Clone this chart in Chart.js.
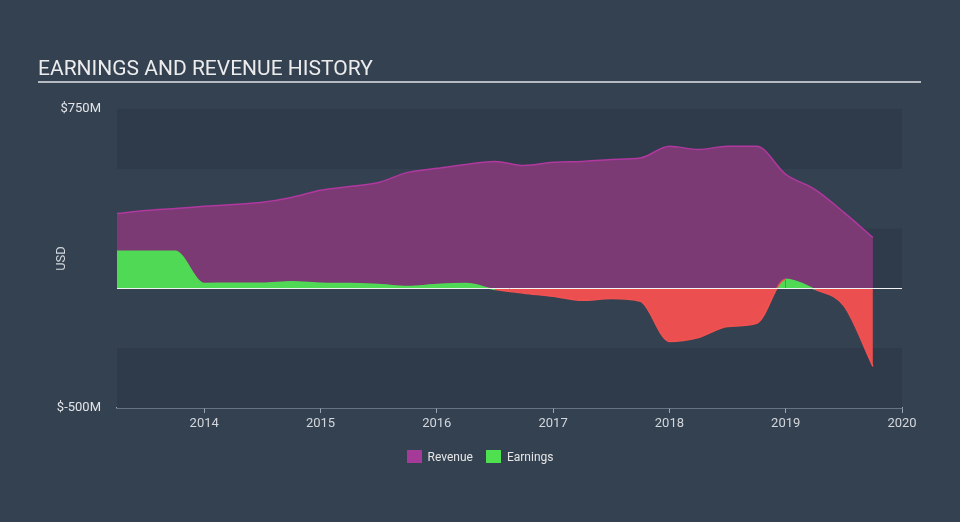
<!DOCTYPE html>
<html>
<head>
<meta charset="utf-8">
<script src="https://cdn.jsdelivr.net/npm/chart.js@4/dist/chart.umd.min.js"></script>
<style>
    body { margin: 0; background: #344151; font-family: Roboto, sans-serif; }
    #wrap { position: relative; width: 960px; height: 522px; }
    #title {
        position: absolute; left: 38px; top: 56px; width: 883px;
        color: #ececec; font-size: 21px; padding-bottom: 1px;
        border-bottom: 2px solid #b5bac1; line-height: 24px;
    }
    #legend {
        position: absolute; top: 450px; left: 0; width: 960px;
        text-align: center; font-size: 12px; color: #e6e6e6;
    }
    #legend span.item { margin: 0 5px; }
    #legend i {
        display: inline-block; width: 15px; height: 13px;
        vertical-align: -2px; margin-right: 6px;
    }
    canvas { position: absolute; left: 0; top: 0; }
</style>
</head>
<body>
<div id="wrap">
    <canvas id="chart" width="960" height="522"></canvas>
    <div id="title">EARNINGS AND REVENUE HISTORY</div>
    <div id="legend">
        <span class="item"><i style="background:#a63a98"></i>Revenue</span>
        <span class="item"><i style="background:#4fe04f"></i>Earnings</span>
    </div>
</div>
<script>
// quarter ends, in fractional years
const quarters = [2013.25, 2013.5, 2013.75, 2014, 2014.25, 2014.5, 2014.75, 2015, 2015.25,
    2015.5, 2015.75, 2016, 2016.25, 2016.5, 2016.75, 2017, 2017.25, 2017.5, 2017.75,
    2018, 2018.25, 2018.5, 2018.75, 2019, 2019.25, 2019.5, 2019.75];

// USD millions
const revenue = [313, 326, 334, 343, 351, 360, 380, 410, 426,
    443, 485, 502, 518, 531, 514, 527, 531, 539, 545,
    594, 581, 594, 594, 477, 414, 318, 213];

const earnings = [155, 155, 155, 21, 22, 22, 28, 22, 20,
    16, 8, 16, 20, -5, -20, -33, -50, -42, -54,
    -222, -205, -159, -146, 38, -4, -72, -326];

const yearTicks = [2014, 2015, 2016, 2017, 2018, 2019, 2020];
const yTicks = [750, 500, 250, 0, -250, -500];
const yLabelled = [750, -500];

const toPoints = vals => vals.map((v, i) => ({ x: quarters[i], y: v }));

const bandsPlugin = {
    id: 'bands',
    beforeDatasetsDraw(chart) {
        const { ctx, chartArea, scales } = chart;
        const y = scales.y;
        ctx.save();
        ctx.fillStyle = '#2f3b4a';
        [[750, 500], [250, 0], [-250, -500]].forEach(([a, b]) => {
            const top = y.getPixelForValue(a);
            const bot = y.getPixelForValue(b);
            ctx.fillRect(chartArea.left, top, chartArea.right - chartArea.left, bot - top);
        });
        ctx.restore();
    },
    afterDatasetsDraw(chart) {
        const { ctx, chartArea, scales } = chart;
        const zero = Math.round(scales.y.getPixelForValue(0)) + 0.5;
        ctx.save();
        ctx.strokeStyle = '#f2f2f2';
        ctx.lineWidth = 1;
        ctx.beginPath();
        ctx.moveTo(chartArea.left, zero);
        ctx.lineTo(chartArea.right, zero);
        ctx.stroke();
        ctx.restore();
    }
};

new Chart(document.getElementById('chart'), {
    type: 'line',
    data: {
        datasets: [{
            label: 'Earnings',
            data: toPoints(earnings),
            order: 0,
            fill: { target: 'origin', above: '#50d955', below: '#ec4f4f' },
            borderWidth: 1.5,
            segment: {
                borderColor: c => (c.p0.parsed.y + c.p1.parsed.y) / 2 >= 0 ? '#50d955' : '#f05252'
            },
            pointRadius: 0,
            cubicInterpolationMode: 'monotone'
        }, {
            label: 'Revenue',
            data: toPoints(revenue),
            order: 1,
            fill: 'origin',
            backgroundColor: '#7b3a74',
            borderColor: '#b0389f',
            borderWidth: 1.5,
            pointRadius: 0,
            cubicInterpolationMode: 'monotone'
        }]
    },
    options: {
        responsive: false,
        animation: false,
        layout: { padding: { left: 50, right: 58, top: 109, bottom: 84 } },
        plugins: {
            legend: { display: false },
            tooltip: { enabled: false }
        },
        scales: {
            x: {
                type: 'linear',
                min: 2013.25,
                max: 2020,
                afterFit(scale) { scale.height = 30; },
                afterBuildTicks(scale) { scale.ticks = yearTicks.map(v => ({ value: v })); },
                grid: { drawOnChartArea: false, drawTicks: true, tickLength: 5, color: '#9aa5b4' },
                border: { color: '#9aa5b4', width: 1.5 },
                ticks: {
                    color: '#d3d7dc',
                    font: { family: 'Roboto', size: 13 },
                    padding: 3,
                    maxRotation: 0,
                    callback: v => String(v)
                }
            },
            y: {
                min: -500,
                max: 750,
                afterFit(scale) { scale.width = 67; },
                afterBuildTicks(scale) { scale.ticks = yTicks.map(v => ({ value: v })); },
                grid: { display: false },
                border: { display: false },
                title: {
                    display: true,
                    text: 'USD',
                    color: '#d3d7dc',
                    font: { family: 'Roboto', size: 13 },
                    padding: { top: 4, bottom: 0 }
                },
                ticks: {
                    color: '#e3e5e8',
                    font: { family: 'Roboto', size: 13 },
                    padding: 8,
                    callback: v => yLabelled.includes(v) ? '$' + v + 'M' : ''
                }
            }
        }
    },
    plugins: [bandsPlugin]
});
</script>
</body>
</html>
